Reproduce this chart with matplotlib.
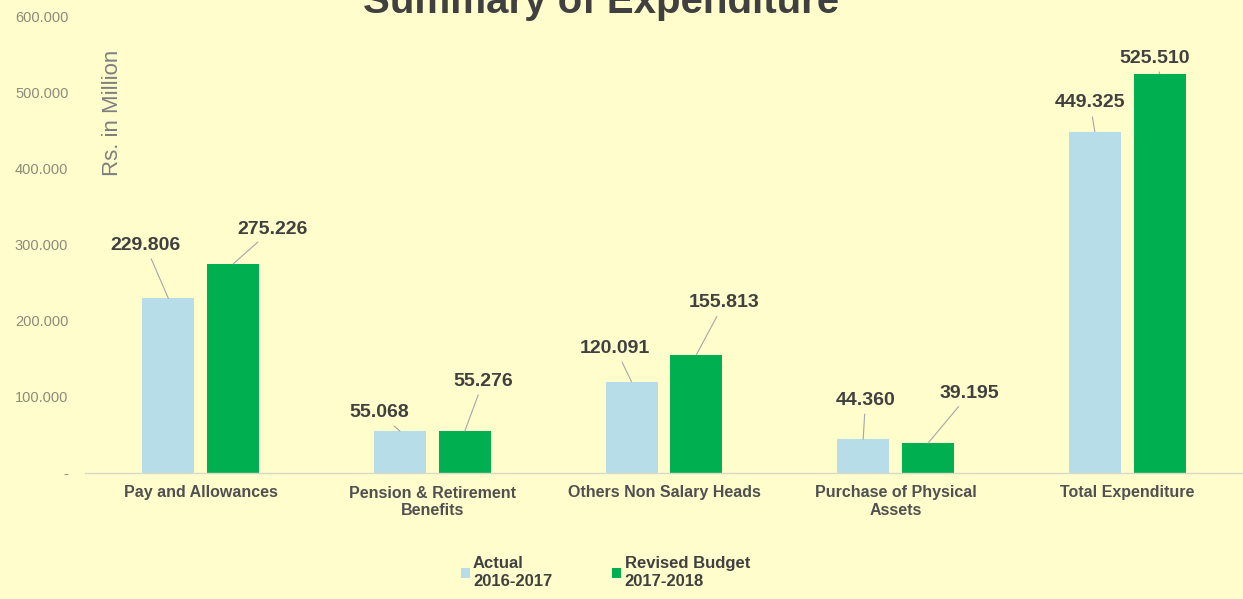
import matplotlib
matplotlib.use("Agg")
import matplotlib.pyplot as plt
import numpy as np

categories = ["Pay and Allowances", "Pension & Retirement\nBenefits", "Others Non Salary Heads",
              "Purchase of Physical\nAssets", "Total Expenditure"]
actual = [229.806, 55.068, 120.091, 44.360, 449.325]
revised = [275.226, 55.276, 155.813, 39.195, 525.510]
series_names = ["Actual\n2016-2017", "Revised Budget\n2017-2018"]
yticks = [0, 100, 200, 300, 400, 500, 600]

# layout: label positions (x in category units, y in data units)
lab_actual = [(-0.24, 300), (0.77, 79), (1.79, 164), (2.87, 96), (3.84, 487)]
lab_revised = [(0.31, 321), (1.22, 121), (2.26, 224), (3.32, 105), (4.12, 546)]

bg = "#FFFDCC"
c_act = "#B7DDE8"
c_rev = "#00B050"
plt.rcParams['font.family'] = ['Liberation Sans', 'DejaVu Sans']

fig = plt.figure(figsize=(12.43, 5.99), dpi=100, facecolor=bg)
ax = fig.add_axes([85/1243, 1-473/599, 1-85/1243, (473-17)/599])
ax.set_facecolor(bg)
x = np.arange(len(categories))
w = 0.224
off = 0.14
b1 = ax.bar(x - off, actual, w, color=c_act, label=series_names[0], zorder=2)
b2 = ax.bar(x + off, revised, w, color=c_rev, label=series_names[1], zorder=2)

ax.set_xlim(-0.5, len(categories) - 0.5)
ax.set_ylim(0, 600)
ax.set_yticks(yticks)
ax.set_yticklabels(["-" if v == 0 else f"{v:.3f}" for v in yticks], color="#8C8C7A", fontsize=10.5)
ax.set_xticks(x)
ax.set_xticklabels(categories, fontsize=11.5, fontweight='bold', color="#505050")
ax.tick_params(axis='both', length=0)
ax.tick_params(axis='x', pad=9)
ax.tick_params(axis='y', pad=12)
for s in ['top', 'right', 'left']:
    ax.spines[s].set_visible(False)
ax.spines['bottom'].set_color("#D9D9C8")
ax.spines['bottom'].set_linewidth(1.0)

lc = "#A6A6A6"
for i in range(len(categories)):
    for vals, labs, o in ((actual, lab_actual, -off), (revised, lab_revised, off)):
        v = vals[i]
        lx, ly = labs[i]
        ax.annotate(f"{v:.3f}", xy=(i + o, v), xytext=(lx, ly), textcoords='data',
                    ha='center', va='center', fontsize=14, fontweight='bold', color="#404040",
                    arrowprops=dict(arrowstyle='-', color=lc, lw=0.8, shrinkA=2, shrinkB=0),
                    zorder=3)

ax.text(0.024, 0.79, "Rs. in Million", rotation=90, transform=ax.transAxes,
        ha='center', va='center', fontsize=16, color="#7F7F7F")

fig.text(0.4835, 1 - 13/599, "Summary of Expenditure", ha='center', va='baseline',
         fontsize=29, fontweight='bold', color="#404040")

leg = fig.legend(handles=[b1, b2], loc='lower center', bbox_to_anchor=(0.487, -0.008),
                 ncol=2, frameon=False, handlelength=0.55, handleheight=0.55,
                 handletextpad=0.2, columnspacing=3.6, labelcolor="#404040",
                 prop={'weight': 'bold', 'size': 12})

fig.savefig("out.png", dpi=100, facecolor=bg)
